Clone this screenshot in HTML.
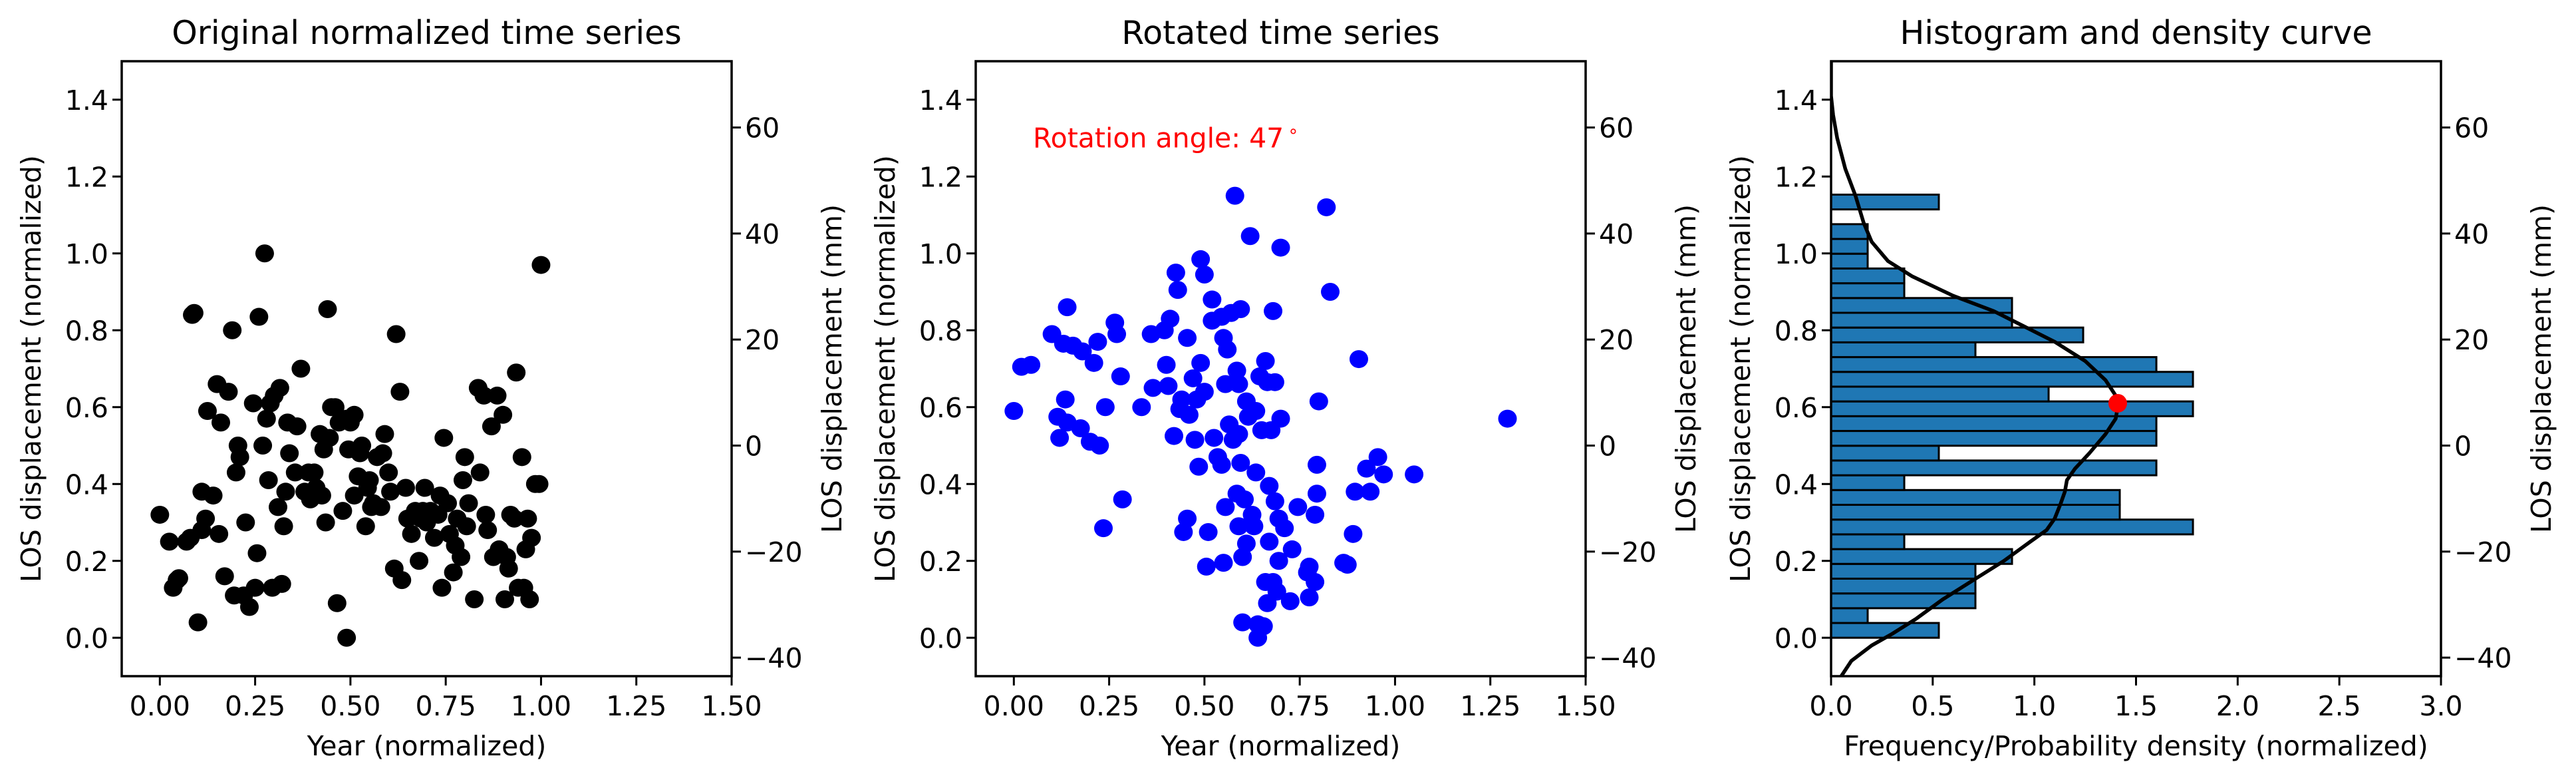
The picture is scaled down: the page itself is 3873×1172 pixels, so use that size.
<!DOCTYPE html>
<html><head><meta charset="utf-8"><style>
html,body{margin:0;padding:0;background:#fff;}
svg{display:block;font-family:"DejaVu Sans","Liberation Sans",sans-serif;}
</style></head><body>
<svg id="fig" xmlns="http://www.w3.org/2000/svg" width="3873" height="1172" viewBox="0 0 3873 1172"></svg>
<script>
const p1x=[0.00,0.025,0.035,0.045,0.05,0.07,0.08,0.085,0.09,0.1,0.11,0.11,0.12,0.125,0.14,0.15,0.155,0.16,0.17,0.18,0.19,0.195,0.2,0.205,0.21,0.22,0.225,0.235,0.245,0.25,0.255,0.26,0.27,0.275,0.28,0.285,0.29,0.295,0.3,0.31,0.315,0.32,0.325,0.33,0.335,0.34,0.355,0.36,0.37,0.38,0.39,0.395,0.405,0.41,0.42,0.425,0.43,0.435,0.44,0.445,0.45,0.46,0.465,0.47,0.48,0.49,0.49,0.495,0.5,0.51,0.51,0.52,0.525,0.53,0.54,0.545,0.55,0.555,0.56,0.57,0.58,0.585,0.59,0.6,0.605,0.615,0.62,0.63,0.635,0.645,0.65,0.66,0.67,0.68,0.685,0.69,0.695,0.7,0.71,0.72,0.73,0.735,0.74,0.745,0.755,0.76,0.77,0.775,0.78,0.79,0.795,0.8,0.805,0.81,0.825,0.835,0.84,0.85,0.855,0.86,0.87,0.875,0.885,0.89,0.9,0.905,0.91,0.915,0.92,0.93,0.935,0.94,0.95,0.955,0.96,0.965,0.97,0.975,0.985,0.995,1.0];
const p1y=[0.32,0.25,0.13,0.15,0.155,0.25,0.26,0.84,0.845,0.04,0.38,0.28,0.31,0.59,0.37,0.66,0.27,0.56,0.16,0.64,0.80,0.11,0.43,0.50,0.47,0.11,0.30,0.08,0.61,0.13,0.22,0.835,0.50,1.0,0.57,0.41,0.61,0.13,0.63,0.34,0.65,0.14,0.29,0.38,0.56,0.48,0.43,0.55,0.70,0.38,0.43,0.36,0.43,0.39,0.53,0.37,0.49,0.30,0.855,0.52,0.60,0.60,0.09,0.56,0.33,0.57,0.0,0.49,0.56,0.58,0.37,0.42,0.48,0.50,0.29,0.39,0.41,0.34,0.35,0.47,0.34,0.48,0.53,0.43,0.38,0.18,0.79,0.64,0.15,0.39,0.31,0.27,0.33,0.20,0.31,0.33,0.39,0.30,0.33,0.26,0.32,0.37,0.13,0.52,0.35,0.27,0.17,0.24,0.31,0.21,0.41,0.47,0.29,0.35,0.10,0.65,0.43,0.63,0.32,0.28,0.55,0.21,0.63,0.23,0.58,0.10,0.21,0.18,0.32,0.31,0.69,0.13,0.47,0.13,0.23,0.31,0.10,0.26,0.40,0.40,0.97];
const p2x=[0,0.02,0.045,0.1,0.115,0.12,0.13,0.135,0.14,0.14,0.155,0.175,0.18,0.2,0.21,0.22,0.225,0.235,0.24,0.265,0.27,0.28,0.285,0.335,0.36,0.365,0.395,0.4,0.405,0.41,0.42,0.425,0.43,0.435,0.44,0.445,0.455,0.46,0.455,0.47,0.475,0.48,0.485,0.49,0.49,0.5,0.5,0.505,0.51,0.52,0.52,0.525,0.535,0.545,0.545,0.55,0.55,0.555,0.555,0.56,0.565,0.57,0.575,0.58,0.585,0.585,0.59,0.59,0.59,0.595,0.595,0.6,0.6,0.605,0.61,0.61,0.615,0.62,0.625,0.63,0.635,0.635,0.64,0.64,0.645,0.65,0.655,0.66,0.66,0.665,0.665,0.67,0.67,0.675,0.68,0.68,0.685,0.685,0.69,0.695,0.695,0.7,0.7,0.71,0.725,0.73,0.745,0.77,0.775,0.775,0.79,0.79,0.795,0.795,0.8,0.82,0.83,0.865,0.875,0.89,0.895,0.905,0.925,0.935,0.955,0.97,1.05,1.295];
const p2y=[0.59,0.705,0.71,0.79,0.575,0.52,0.765,0.62,0.86,0.56,0.76,0.545,0.745,0.51,0.715,0.77,0.50,0.285,0.60,0.82,0.79,0.68,0.36,0.60,0.79,0.65,0.80,0.71,0.655,0.83,0.525,0.95,0.905,0.595,0.62,0.275,0.31,0.58,0.78,0.675,0.515,0.62,0.445,0.715,0.985,0.64,0.945,0.185,0.275,0.88,0.825,0.52,0.47,0.835,0.45,0.195,0.78,0.66,0.34,0.75,0.555,0.845,0.515,1.15,0.695,0.375,0.29,0.66,0.53,0.855,0.455,0.21,0.04,0.36,0.245,0.615,0.575,1.045,0.32,0.29,0.43,0.59,0.035,0.0,0.68,0.54,0.03,0.72,0.145,0.665,0.09,0.395,0.25,0.54,0.145,0.85,0.355,0.665,0.12,0.31,0.2,1.015,0.57,0.285,0.095,0.23,0.34,0.17,0.185,0.105,0.145,0.32,0.375,0.45,0.615,1.12,0.90,0.195,0.19,0.27,0.38,0.725,0.44,0.38,0.47,0.425,0.425,0.57];
const histStart=0.0;
const histBinWidth=0.03843;
const histDensity=[0.53,0.18,0.71,0.71,0.71,0.89,0.36,1.78,1.42,1.42,0.36,1.60,0.53,1.60,1.60,1.78,1.07,1.78,1.60,0.71,1.24,0.89,0.89,0.36,0.36,0.18,0.18,0.18,0,0.53];
const kdeX=[0.05,0.1,0.2,0.3,0.42,0.55,0.7,0.85,0.98,1.06,1.1,1.13,1.15,1.16,1.2,1.27,1.35,1.4,1.41,1.4,1.35,1.25,1.1,0.95,0.8,0.6,0.4,0.28,0.2,0.16,0.12,0.07,0.03,0.01,0,0];
const kdeY=[-0.1,-0.06,-0.02,0.01,0.05,0.1,0.15,0.2,0.25,0.28,0.31,0.35,0.38,0.41,0.44,0.48,0.53,0.57,0.6,0.63,0.67,0.72,0.77,0.81,0.85,0.89,0.94,0.98,1.03,1.08,1.15,1.22,1.3,1.36,1.41,1.5];
const peakPoint=[1.41,0.61];
const xTicks12=[0,0.25,0.5,0.75,1.0,1.25,1.5];
const xTickLabels12=["0.00","0.25","0.50","0.75","1.00","1.25","1.50"];
const xTicks3=[0,0.5,1,1.5,2,2.5,3];
const xTickLabels3=["0.0","0.5","1.0","1.5","2.0","2.5","3.0"];
const yTicks=[0,0.2,0.4,0.6,0.8,1.0,1.2,1.4];
const yTickLabels=["0.0","0.2","0.4","0.6","0.8","1.0","1.2","1.4"];
const mmTicks=[-40,-20,0,20,40,60];
const mmTickLabels=["−40","−20","0","20","40","60"];

const NS="http://www.w3.org/2000/svg";
const svg=document.getElementById('fig');
function mk(tag,attrs,parent,text){const e=document.createElementNS(NS,tag);for(const k in attrs)e.setAttribute(k,attrs[k]);if(text!==undefined)e.textContent=text;(parent||svg).appendChild(e);return e;}
const TOP=92,BOT=1016,W=917;
const yS=v=>BOT-(v+0.1)*(BOT-TOP)/1.6;
const mmS=m=>yS(0.5+m/72.5);

function panel(left,xmin,xmax,title,xlabel,key){
  const g=mk('g',{});
  
  
  const xS=v=>left+(v-xmin)*W/(xmax-xmin);
  const right=left+W;
  const t=mk('text',{x:left+W/2,y:66,'text-anchor':'middle','font-size':49},g,title);
  
  
  return {g,xS,right};
}
function frame(P,left,xt,xtl,xlabel,key){
  const g=P.g,right=P.right;
  const ax=mk('g',{},g);
  
  
  mk('rect',{x:left,y:TOP,width:W,height:BOT-TOP,fill:'none',stroke:'#000','stroke-width':3.5},ax);
  xt.forEach((v,i)=>{const x=P.xS(v);
    mk('line',{x1:x,x2:x,y1:BOT,y2:BOT+14,stroke:'#000','stroke-width':3},ax);
    const l=mk('text',{x:x,y:1075,'text-anchor':'middle','font-size':41},ax,xtl[i]);
    
    });
  yTicks.forEach((v,i)=>{const y=yS(v);
    mk('line',{x1:left-14,x2:left,y1:y,y2:y,stroke:'#000','stroke-width':3},ax);
    const l=mk('text',{x:left-20,y:y+15,'text-anchor':'end','font-size':41},ax,yTickLabels[i]);
    
    });
  mmTicks.forEach((v,i)=>{const y=mmS(v);
    mk('line',{x1:right,x2:right+14,y1:y,y2:y,stroke:'#000','stroke-width':3},ax);
    const l=mk('text',{x:right+20,y:y+15,'text-anchor':'start','font-size':41},ax,mmTickLabels[i]);
    
    });
  const xl=mk('text',{x:left+W/2,y:1135,'text-anchor':'middle','font-size':41},ax,xlabel);
  
  
  const yl=mk('text',{x:0,y:0,'text-anchor':'middle','font-size':41,transform:`translate(${left-122},${(TOP+BOT)/2}) rotate(-90)`},ax,'LOS displacement (normalized)');
  
  
  const yr=mk('text',{x:0,y:0,'text-anchor':'middle','font-size':41,transform:`translate(${right+165},${(TOP+BOT)/2}) rotate(-90)`},ax,'LOS displacement (mm)');
  
  
}
const L1=183,L2=1467,L3=2753;
const P1=panel(L1,-0.1,1.5,'Original normalized time series','Year (normalized)','original');
p1x.forEach((v,i)=>{const c=mk('ellipse',{cx:P1.xS(v),cy:yS(p1y[i]),rx:14,ry:13.5,fill:'#000'},P1.g);
  
  });
frame(P1,L1,xTicks12,xTickLabels12,'Year (normalized)','original');
const P2=panel(L2,-0.1,1.5,'Rotated time series','Year (normalized)','rotated');
p2x.forEach((v,i)=>{const c=mk('ellipse',{cx:P2.xS(v),cy:yS(p2y[i]),rx:14,ry:13.5,fill:'#0000ff'},P2.g);
  
  });
const ann=mk('text',{x:P2.xS(0.05),y:yS(1.3)+14,'font-size':41,fill:'#ff0000'},P2.g,'Rotation angle: 47');


mk('tspan',{'font-size':26,dy:-16,dx:6},ann,'∘');
frame(P2,L2,xTicks12,xTickLabels12,'Year (normalized)','rotated');
const P3=panel(L3,0,3,'Histogram and density curve','Frequency/Probability density (normalized)','histogram');
histDensity.forEach((d,i)=>{ if(d<=0)return;
  const y0=histStart+i*histBinWidth,y1=y0+histBinWidth;
  const r=mk('rect',{x:P3.xS(0),y:yS(y1),width:P3.xS(d)-P3.xS(0),height:yS(y0)-yS(y1),fill:'#1f77b4',stroke:'#000','stroke-width':3},P3.g);
  
  });
const cp=document.createElementNS(NS,'clipPath');cp.setAttribute('id','c3');svg.appendChild(cp);
mk('rect',{x:L3,y:TOP,width:W,height:BOT-TOP},cp);
const dpath=kdeX.map((v,i)=>(i?'L':'M')+P3.xS(v).toFixed(1)+','+yS(kdeY[i]).toFixed(1)).join(' ');
const kl=mk('path',{d:dpath,fill:'none',stroke:'#000','stroke-width':5.5,'stroke-linejoin':'round','clip-path':'url(#c3)'},P3.g);


const pk=mk('ellipse',{cx:P3.xS(peakPoint[0]),cy:yS(peakPoint[1]),rx:14,ry:14,fill:'#ff0000'},P3.g);


frame(P3,L3,xTicks3,xTickLabels3,'Frequency/Probability density (normalized)','histogram');
</script>
</body></html>
